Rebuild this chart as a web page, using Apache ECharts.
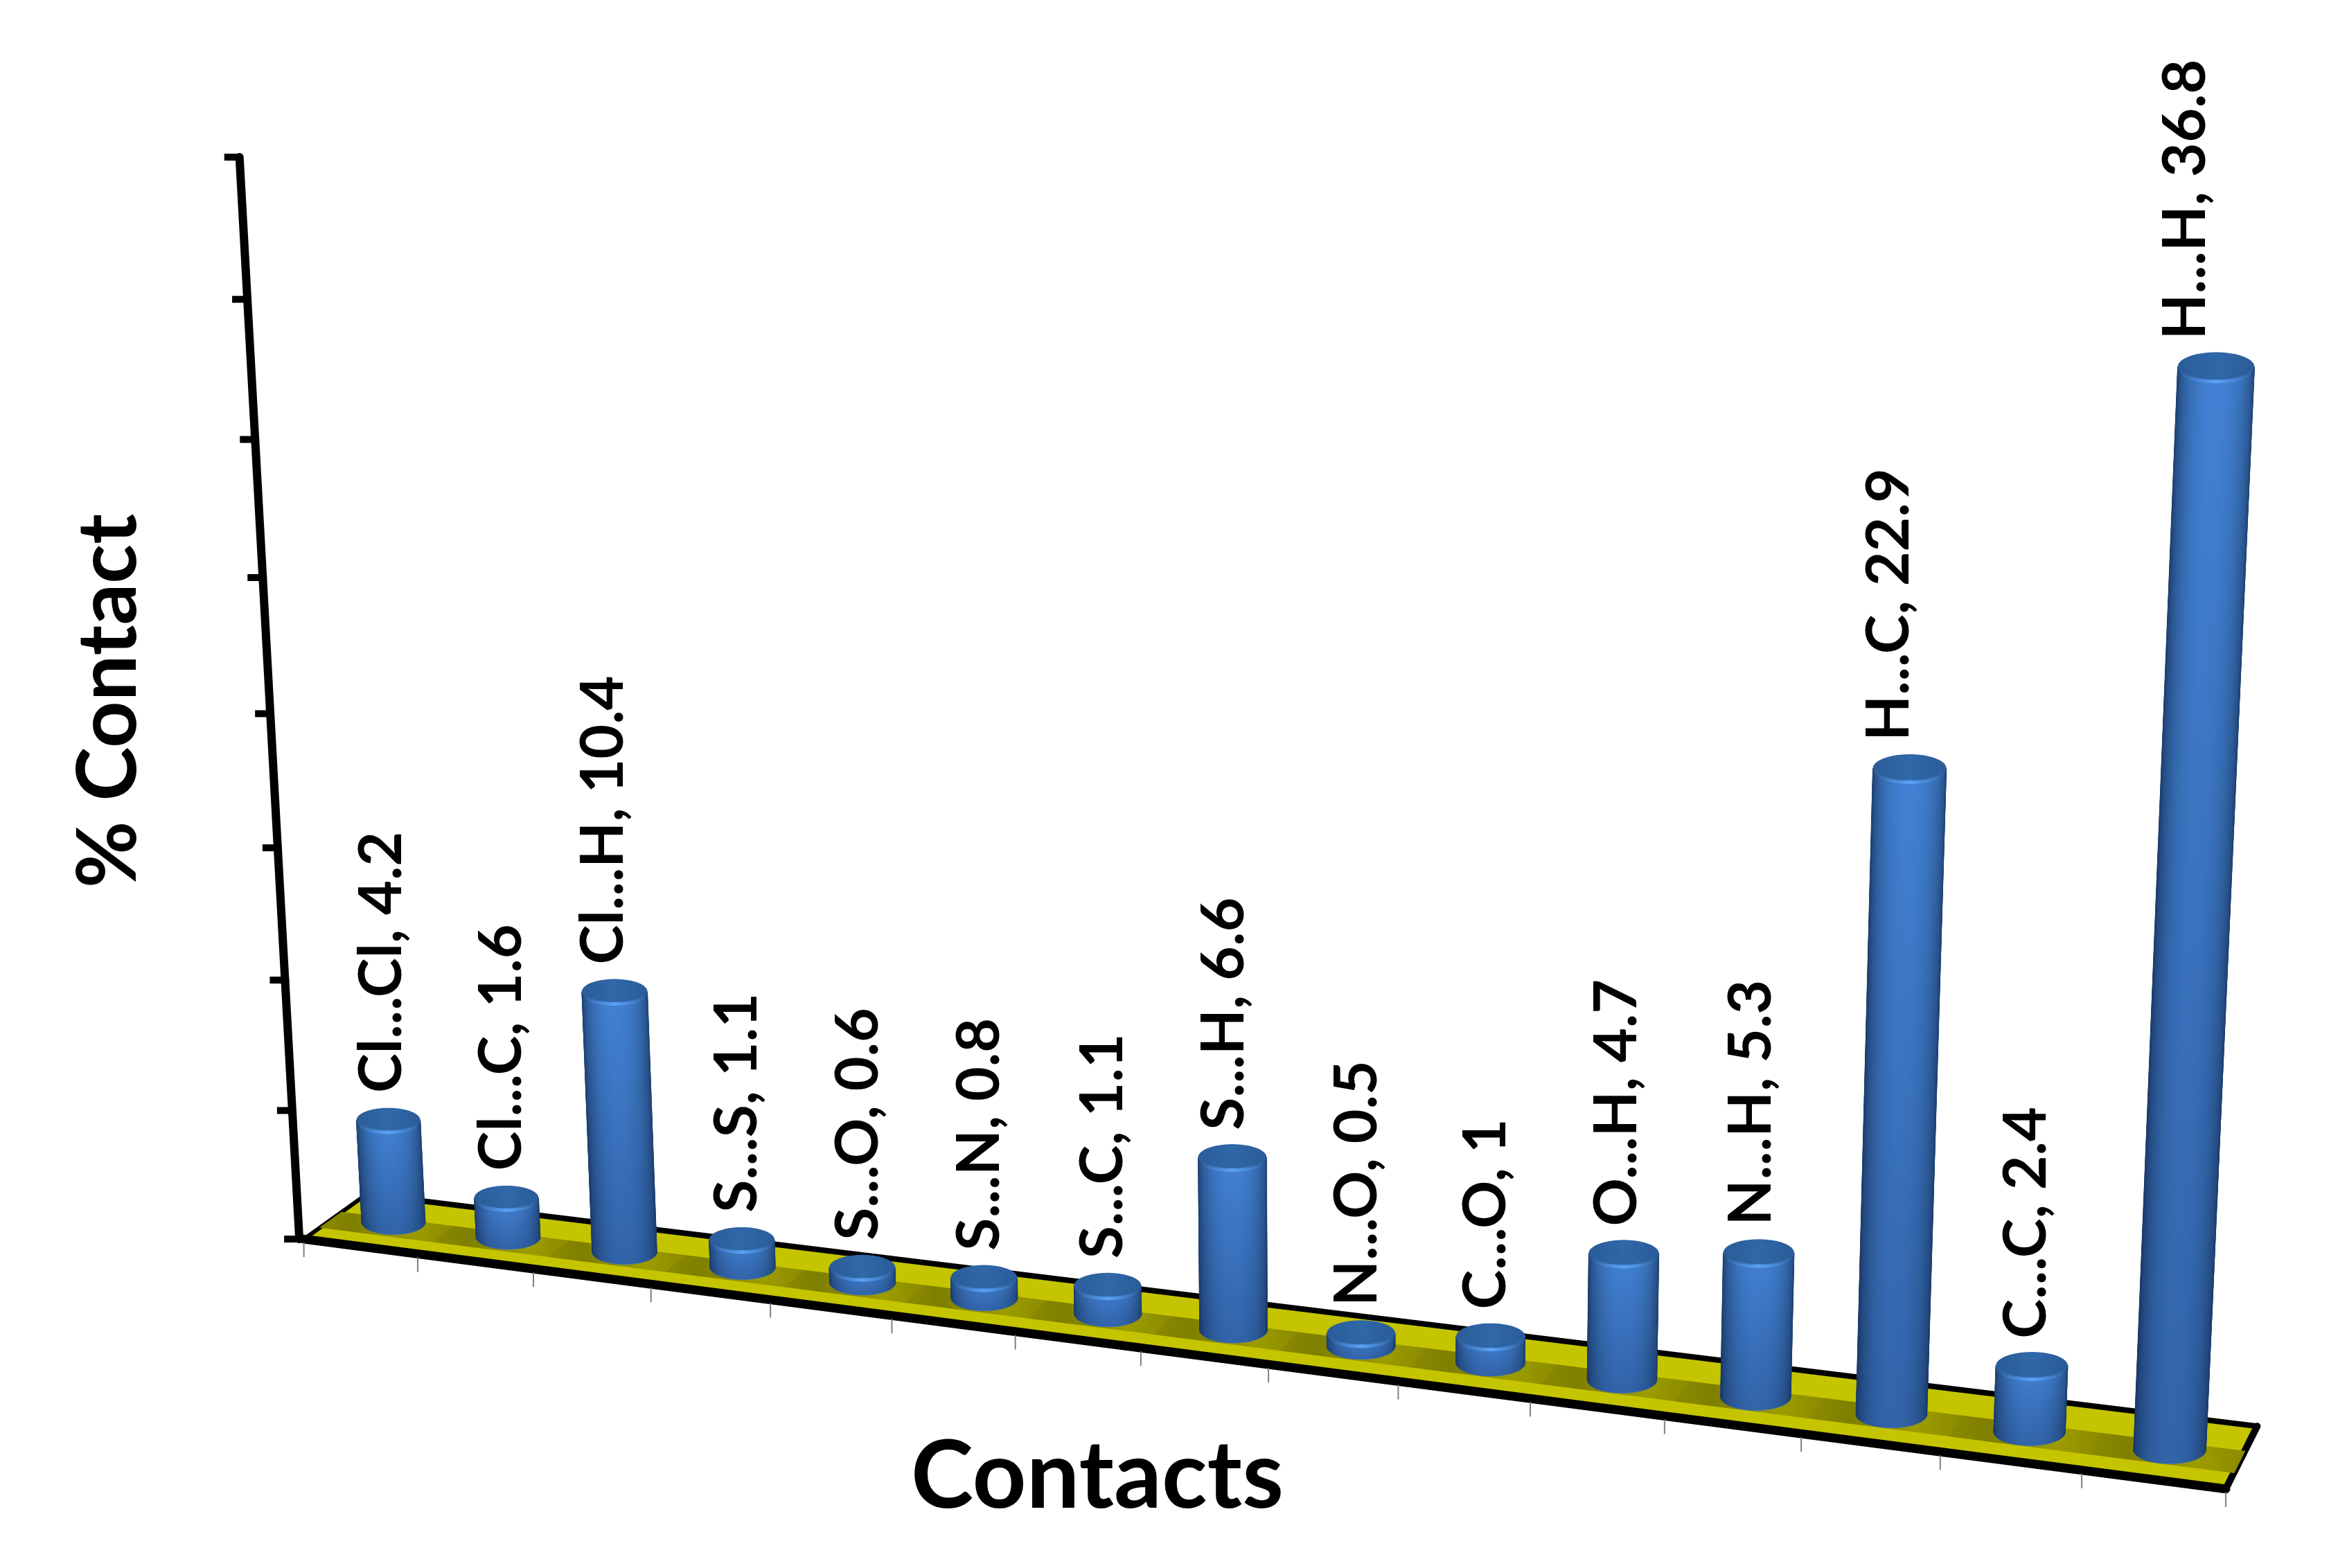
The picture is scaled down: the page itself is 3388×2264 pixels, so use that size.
<!DOCTYPE html>
<html><head><meta charset="utf-8">
<style>html,body{margin:0;padding:0;background:#fff}#c{width:3388px;height:2264px}</style>
<script src="https://cdn.jsdelivr.net/npm/echarts@6/dist/echarts.min.js"></script>
</head><body><div id="c"></div>
<script>
const contacts = ['Cl...Cl','Cl...C','Cl...H','S...S','S...O','S...N','S...C','S...H','N...O','C...O','O...H','N...H','H...C','C...C','H...H'];
const percent  = [4.2,1.6,10.4,1.1,0.6,0.8,1.1,6.6,0.5,1,4.7,5.3,22.9,2.4,36.8];
const yTicks   = [0,5,10,15,20,25,30,35,40];

const K = 3388/1568;
const GRID = {left:400, top:100, width:2368, height:1824};
const FONT = 'Lato, "Open Sans", sans-serif';

function quad(pts){
  const [p0,p1,p2,p3] = pts.map(p=>[p[0]*K,p[1]*K]);
  const dx1=p1[0]-p2[0], dx2=p3[0]-p2[0], sx=p0[0]-p1[0]+p2[0]-p3[0];
  const dy1=p1[1]-p2[1], dy2=p3[1]-p2[1], sy=p0[1]-p1[1]+p2[1]-p3[1];
  const den=dx1*dy2-dx2*dy1;
  const g=(sx*dy2-dx2*sy)/den, h=(dx1*sy-sx*dy1)/den;
  const a=p1[0]-p0[0]+g*p1[0], b=p3[0]-p0[0]+h*p3[0], c=p0[0];
  const d=p1[1]-p0[1]+g*p1[1], e=p3[1]-p0[1]+h*p3[1], f=p0[1];
  return (u,v)=>{const w=g*u+h*v+1;return [(a*u+b*v+c)/w,(d*u+e*v+f)/w];};
}
// perspective planes of the 3-D box: value plane through the bars, front wall, floor
const barPlane   = quad([[225,812],[1497,975],[1534,180],[189,133]]);
const frontPlane = quad([[200,828],[1487,995],[1530,150],[160,105]]);
const floorPlane = quad([[203,828],[1487,995],[1508,953],[245,798]]);

const warp = (u,al)=>al*u/(1+(al-1)*u);
const uOf = x=>(x-GRID.left)/GRID.width;
const vOf = y=>(GRID.top+GRID.height-y)/GRID.height;
const onBars  = p=>barPlane(warp(uOf(p[0]),1.046),vOf(p[1]));
const onFront = p=>frontPlane(uOf(p[0]),vOf(p[1]));
const onFloor = (x,d)=>floorPlane(warp(uOf(x),1.118),d);

const mix=(a,b,t)=>a.map((v,i)=>Math.round(v+(b[i]-v)*t));
const rgb=c=>`rgb(${c[0]},${c[1]},${c[2]})`;
const EDGE=[24,54,96], MID=[66,130,212], RIGHT=[30,66,112];
function shade(t){ // t 0..1 across the visible cylinder
  return t<.5 ? mix(EDGE,MID,Math.sin(t*Math.PI)**1.1) : mix(RIGHT,MID,Math.sin(t*Math.PI)**1.1);
}
function arc(cx,cy,rx,ry,from,to,n){
  const out=[];
  for(let i=0;i<=n;i++){const a=from+(to-from)*i/n;out.push([cx+rx*Math.cos(a),cy+ry*Math.sin(a)]);}
  return out;
}
function radiusAt(c,band){
  const half=(.28-.025*uOf(c[0]))*band;
  return Math.abs(onBars([c[0]+half,c[1]])[0]-onBars([c[0]-half,c[1]])[0])/2;
}
function cylinder(api){
  const i=api.value(0), v=api.value(1);
  const band=api.size([1,0])[0];
  const c0=api.coord([i,0]), c1=api.coord([i,v]);
  const b=onBars(c0), t=onBars(c1);
  const rb=radiusAt(c0,band), rt=radiusAt(c1,band);
  const kY=.38, N=36, kids=[];
  // front half of each ellipse, left to right
  const fb=arc(b[0],b[1],rb,rb*kY,Math.PI,0,N);
  const ft=arc(t[0],t[1],rt,rt*kY,Math.PI,0,N);
  for(let k=0;k<N;k++){
    const col=rgb(shade((k+.5)/N));
    kids.push({type:'polygon',shape:{points:[ft[k],ft[k+1],fb[k+1],fb[k]]},
      style:{fill:col,stroke:col,lineWidth:1}});
  }
  kids.push({type:'polygon',shape:{points:ft.concat(fb.slice().reverse())},
    style:{fill:new echarts.graphic.LinearGradient(0,0,0,1,[
      {offset:0,color:'rgba(12,30,70,0)'},{offset:1,color:'rgba(12,30,70,.30)'}])}});
  // top cap
  kids.push({type:'polygon',shape:{points:arc(t[0],t[1],rt,rt*kY,0,2*Math.PI,48)},
    style:{fill:new echarts.graphic.LinearGradient(0,0,1,0,[
      {offset:0,color:'#2a5c98'},{offset:.5,color:'#3068a8'},{offset:1,color:'#2a5c98'}])}});
  // light rim under the cap
  kids.push({type:'polyline',shape:{points:ft.slice(5,N-4)},
    style:{fill:null,lineWidth:5,stroke:new echarts.graphic.LinearGradient(0,0,1,0,[
      {offset:0,color:'rgba(80,150,235,0)'},{offset:.5,color:'rgba(92,165,250,.95)'},{offset:1,color:'rgba(80,150,235,0)'}])}});
  return {type:'group',children:kids};
}
function floorItem(params,api){
  const i=api.value(0), band=api.size([1,0])[0];
  const c=api.coord([i,0])[0], l=c-band/2, r=c+band/2;
  const kids=[];
  if(i===0){
    const L=GRID.left, R=GRID.left+GRID.width;
    const corners=[onFloor(L,0),onFloor(R,0),onFloor(R,1),onFloor(L,1)];
    kids.push({type:'polygon',shape:{points:corners},style:{fill:'#c4c400'}});
    kids.push({type:'line',shape:{x1:corners[3][0],y1:corners[3][1],x2:corners[2][0],y2:corners[2][1]},style:{stroke:'#000',lineWidth:8,lineCap:'round'}});
    kids.push({type:'line',shape:{x1:corners[0][0],y1:corners[0][1],x2:corners[3][0],y2:corners[3][1]},style:{stroke:'#000',lineWidth:6,lineCap:'round'}});
    kids.push({type:'line',shape:{x1:corners[1][0],y1:corners[1][1],x2:corners[2][0],y2:corners[2][1]},style:{stroke:'#000',lineWidth:10,lineCap:'round'}});
    kids.push({type:'line',shape:{x1:corners[0][0],y1:corners[0][1],x2:corners[1][0],y2:corners[1][1]},style:{stroke:'#000',lineWidth:13,lineCap:'round'}});
  }
  const e=.6;
  const band2=[onFloor(l-e,.25),onFloor(r+e,.25),onFloor(r+e,.6),onFloor(l-e,.6)];
  kids.push({type:'polygon',shape:{points:band2},style:{fill:new echarts.graphic.LinearGradient(0,0,1,0,[
    {offset:0,color:'#8a8a00'},{offset:.25,color:'#7f7f00'},{offset:.7,color:'#9c9c00'},{offset:1,color:'#8a8a00'}])}});
  const tick=x=>{const p=onFloor(x,0);return {type:'line',shape:{x1:p[0],y1:p[1]+5,x2:p[0],y2:p[1]+26},style:{stroke:'#7f7f7f',lineWidth:2}};};
  kids.push(tick(l));
  if(i===contacts.length-1) kids.push(tick(r));
  return {type:'group',children:kids};
}
function yAxisItem(params,api){
  const val=api.value(0), idx=params.dataIndex;
  const anchor=api.coord([0,val]);
  const p=onFront([GRID.left,anchor[1]]);
  const kids=[{type:'line',shape:{x1:p[0]-22,y1:p[1],x2:p[0]+3,y2:p[1]},style:{stroke:'#000',lineWidth:10}}];
  if(idx<yTicks.length-1){
    const q=onFront([GRID.left,api.coord([0,yTicks[idx+1]])[1]]);
    kids.push({type:'line',shape:{x1:p[0],y1:p[1],x2:q[0],y2:q[1]},style:{stroke:'#000',lineWidth:12,lineCap:'round'}});
  }
  return {type:'group',children:kids};
}
function labelItem(params,api){
  const i=api.value(0), v=api.value(1);
  const t=onBars(api.coord([i,v]));
  const band=api.size([1,0])[0];
  const r=.285*band*.38;
  return {type:'text',x:t[0]-(4+v*.8)*K*.6,y:t[1]-r-22,rotation:Math.PI/2,
    style:{text:contacts[i]+', '+v,fill:'#000',font:'bold 86px '+FONT,align:'left',verticalAlign:'middle'}};
}
const chart=echarts.init(document.getElementById('c'),null,{renderer:'canvas'});
const bars=contacts.map((c,i)=>[i,percent[i]]);
chart.setOption({
  animation:false,
  backgroundColor:'#fff',
  grid:Object.assign({},GRID,{containLabel:false}),
  xAxis:{type:'category',data:contacts,name:'Contacts',nameLocation:'middle',nameGap:141,
    nameTextStyle:{fontFamily:FONT,fontWeight:'bold',fontSize:136,color:'#000'},
    axisLine:{show:false},axisTick:{show:false},axisLabel:{show:false},splitLine:{show:false}},
  yAxis:{type:'value',min:0,max:40,interval:5,name:'% Contact',nameLocation:'middle',nameGap:183,nameRotate:90,
    nameTextStyle:{fontFamily:FONT,fontWeight:'bold',fontSize:118,color:'#000'},
    axisLine:{show:false},axisTick:{show:false},axisLabel:{show:false},splitLine:{show:false}},
  series:[
    {type:'custom',coordinateSystem:'cartesian2d',clip:false,silent:true,z:1,data:bars,encode:{x:0,y:1},renderItem:floorItem},
    {type:'custom',coordinateSystem:'cartesian2d',clip:false,silent:true,z:2,data:yTicks.map(v=>[v]),encode:{y:0},renderItem:yAxisItem},
    {type:'custom',coordinateSystem:'cartesian2d',clip:false,silent:true,z:3,data:bars,encode:{x:0,y:1},renderItem:(p,api)=>cylinder(api)},
    {type:'custom',coordinateSystem:'cartesian2d',clip:false,silent:true,z:4,data:bars,encode:{x:0,y:1},renderItem:labelItem}
  ]
});
</script></body></html>
